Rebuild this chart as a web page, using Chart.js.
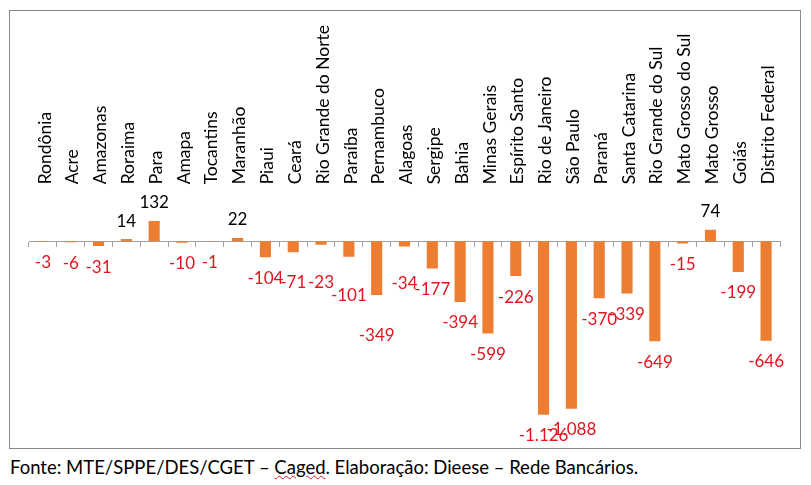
<!DOCTYPE html>
<html>
<head>
<meta charset="utf-8">
<script src="https://cdn.jsdelivr.net/npm/chart.js@4"></script>
<style>
  html, body { margin: 0; padding: 0; background: #fff; }
  #box { position: absolute; left: 9px; top: 10px; width: 792px; height: 439px; box-sizing: border-box; border: 1px solid #8a8a8a; }
  #box canvas { position: absolute; left: 0; top: 0; }
  #foot { position: absolute; left: 10px; top: 455px; font-family: Lato, "Open Sans", sans-serif; font-size: 18.5px; color: #000; white-space: nowrap; line-height: 25px; }
  #foot .sp { text-decoration: underline wavy #d02020; text-decoration-thickness: 1px; }
</style>
</head>
<body>
<div id="box"><canvas id="c" width="790" height="437"></canvas></div>
<div id="foot">Fonte: MTE/SPPE/DES/CGET – <span class="sp">Caged</span>. Elaboração: Dieese – Rede Bancários.</div>
<script>
const categories = ["Rondônia","Acre","Amazonas","Roraima","Para","Amapa","Tocantins","Maranhão","Piaui","Ceará","Rio Grande do Norte","Paraíba","Pernambuco","Alagoas","Sergipe","Bahia","Minas Gerais","Espírito Santo","Rio de Janeiro","São Paulo","Paraná","Santa Catarina","Rio Grande do Sul","Mato Grosso do Sul","Mato Grosso","Goiás","Distrito Federal"];
const saldo = [-3,-6,-31,14,132,-10,-1,22,-104,-71,-23,-101,-349,-34,-177,-394,-599,-226,-1126,-1088,-370,-339,-649,-15,74,-199,-646];
// extra downward shift (px) of a few labels that were moved by hand in the original
const labelShift = [0,0,0,0,0,0,0,0,0,9,17,18,19,16,0,0,0,0,0,0,0,0,0,0,0,0,0];

function fmt(v) {
  const s = Math.abs(v).toString().replace(/\B(?=(\d{3})+(?!\d))/g, '.');
  return (v < 0 ? '-' : '') + s;
}

const FONT = 'Lato, "Open Sans", sans-serif';

const valueLabels = {
  id: 'valueLabels',
  afterDatasetsDraw(chart) {
    const ctx = chart.ctx;
    const meta = chart.getDatasetMeta(0);
    ctx.save();
    ctx.font = '17px ' + FONT;
    ctx.textAlign = 'center';
    ctx.textBaseline = 'middle';
    meta.data.forEach((bar, i) => {
      const v = saldo[i];
      if (v >= 0) {
        ctx.fillStyle = '#000000';
        ctx.fillText(fmt(v), bar.x, bar.y - 18);
      } else {
        ctx.fillStyle = '#e0161e';
        ctx.fillText(fmt(v), bar.x, bar.y + 21 + labelShift[i]);
      }
    });
    ctx.restore();
  }
};

new Chart(document.getElementById('c'), {
  type: 'bar',
  data: {
    labels: categories,
    datasets: [{
      data: saldo,
      backgroundColor: '#ed7d31',
      borderWidth: 0,
      categoryPercentage: 1,
      barPercentage: 0.4
    }]
  },
  options: {
    responsive: false,
    devicePixelRatio: 1,
    animation: false,
    layout: { padding: { left: 19, right: 20, top: 11, bottom: 2 } },
    plugins: { legend: { display: false }, tooltip: { enabled: false } },
    scales: {
      x: {
        type: 'category',
        position: { y: 0 },
        offset: true,
        grid: { display: true, drawOnChartArea: false, drawTicks: true, tickLength: 5, color: '#a0a0a0', offset: true },
        border: { display: true, color: '#a0a0a0', width: 1 },
        ticks: { display: false }
      },
      xTop: {
        type: 'category',
        position: 'top',
        offset: true,
        grid: { display: false, drawTicks: false },
        border: { display: false },
        ticks: { autoSkip: false, minRotation: 90, maxRotation: 90, padding: 3, labelOffset: 23, color: '#000', font: { family: FONT, size: 17.5 } }
      },
      y: {
        display: false,
        min: -1329,
        max: 350
      }
    }
  },
  plugins: [valueLabels]
});
</script>
</body>
</html>
